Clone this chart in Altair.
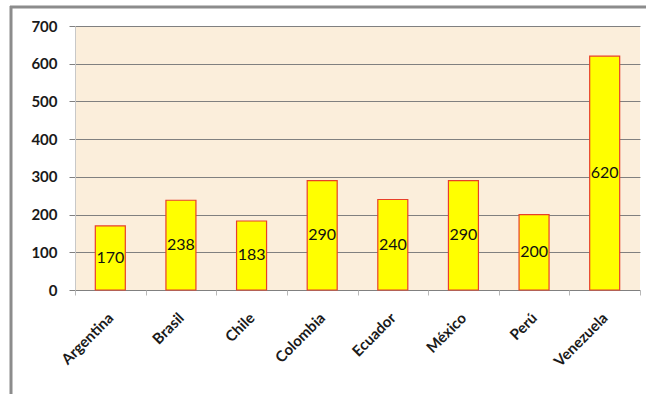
import altair as alt
import pandas as pd

paises = ["Argentina", "Brasil", "Chile", "Colombia", "Ecuador", "México", "Perú", "Venezuela"]
valores = [170, 238, 183, 290, 240, 290, 200, 620]
y_ticks = [0, 100, 200, 300, 400, 500, 600, 700]

df = pd.DataFrame({"pais": paises, "valor": valores})

x_axis = alt.Axis(
    labelAngle=-45,
    labelAlign="right",
    labelBaseline="middle",
    labelFont="Lato",
    labelFontSize=15,
    labelFontWeight="bold",
    labelColor="#1a1a1a",
    labelPadding=20,
    tickBand="extent",
    tickColor="#b8b8b8",
    tickSize=5,
    domain=False,
    grid=False,
)
x_scale = alt.Scale(paddingInner=0, paddingOuter=0)

y_axis = alt.Axis(
    values=y_ticks,
    labelOverlap=False,
    labelFont="Lato",
    labelFontSize=15,
    labelFontWeight="bold",
    labelColor="#1a1a1a",
    labelPadding=12,
    tickColor="#808080",
    tickSize=6,
    domainColor="#c8c8c8",
    gridColor="#808080",
    gridWidth=1,
)
y_scale = alt.Scale(domain=[0, 700], nice=False)

bars = alt.Chart(df).mark_bar(
    size=30, color="#FFFF00", stroke="#E8402A", strokeWidth=1.2
).encode(
    x=alt.X("pais:N", sort=paises, title=None, scale=x_scale, axis=x_axis),
    y=alt.Y("valor:Q", title=None, scale=y_scale, axis=y_axis),
)

labels = alt.Chart(df).transform_calculate(mid="datum.valor / 2").mark_text(
    font="Lato", fontSize=16, color="#111111", baseline="middle"
).encode(
    x=alt.X("pais:N", sort=paises, title=None, scale=x_scale, axis=x_axis),
    y=alt.Y("mid:Q", title=None, scale=y_scale, axis=y_axis),
    text=alt.Text("valor:Q"),
)

frame_data = alt.Data(values=[{"a": 1}])
frame_left = alt.Chart(frame_data).mark_rule(stroke="#8c8c8c", strokeWidth=3).encode(
    x=alt.value(-64), y=alt.value(-20), y2=alt.value(400)
)
frame_top = alt.Chart(frame_data).mark_rule(stroke="#8c8c8c", strokeWidth=3).encode(
    x=alt.value(-65), x2=alt.value(600), y=alt.value(-19)
)

chart = alt.layer(bars, labels, frame_left, frame_top).properties(
    width=565,
    height=264,
    autosize=alt.AutoSizeParams(type="none"),
    padding={"left": 75, "top": 26, "right": 6, "bottom": 104},
    background="#ffffff",
).configure_view(fill="#FBEEDB", stroke=None)

chart.save("out.html", embed_options={"renderer": "svg", "actions": False})
